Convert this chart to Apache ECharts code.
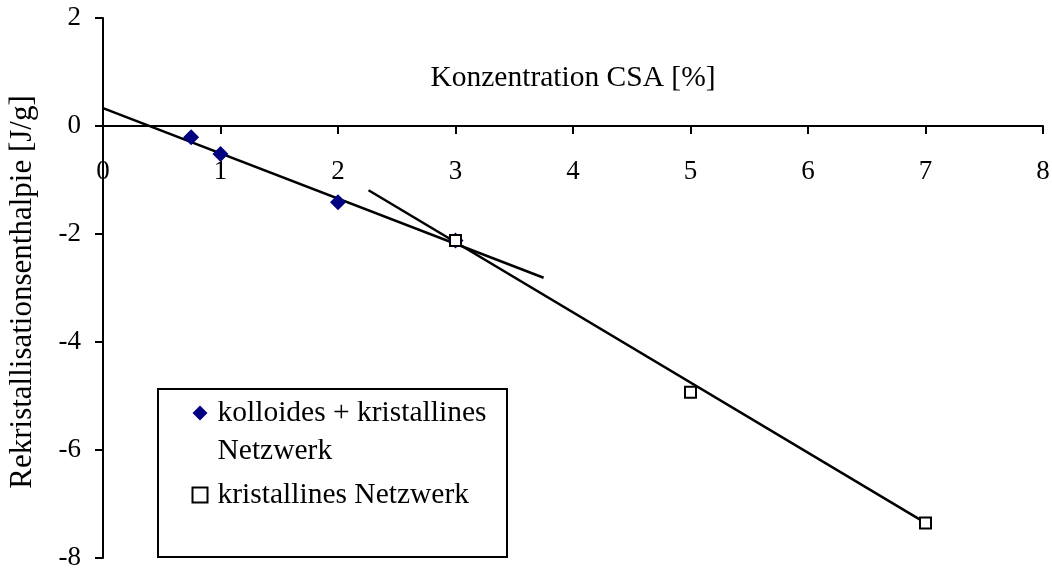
<!DOCTYPE html>
<html>
<head>
<meta charset="utf-8">
<script src="https://cdn.jsdelivr.net/npm/echarts@6/dist/echarts.min.js"></script>
<style>
  html, body { margin: 0; padding: 0; background: #fff; }
  #chart { width: 1052px; height: 573px; }
</style>
</head>
<body>
<div id="chart"></div>
<script>
// Measured points: CSA concentration [%] vs. recrystallisation enthalpy [J/g]
const seriesNames = ['kolloides + kristallines Netzwerk', 'kristallines Netzwerk'];
const colloidX = [0.75, 1, 2, 3];
const colloidY = [-0.21, -0.52, -1.41, -2.12];
const crystalX = [3, 5, 7];
const crystalY = [-2.12, -4.93, -7.35];

// Trend lines (start / end points)
const trendColloidX = [0, 3.75];
const trendColloidY = [0.33, -2.81];
const trendCrystalX = [2.26, 7];
const trendCrystalY = [-1.19, -7.35];

const xTicks = { min: 0, max: 8, interval: 1 };
const yTicks = { min: -8, max: 2, interval: 2 };

const pairs = (xs, ys) => xs.map((x, i) => [x, ys[i]]);

const FONT = 'Liberation Serif';
const GRID = { left: 103, right: 9, top: 18, bottom: 15 };
const PLOT_H = 573 - GRID.top - GRID.bottom;
// the x axis runs along y = 0, lifted from the bottom edge of the grid
const xAxisOffset = -PLOT_H * (0 - yTicks.min) / (yTicks.max - yTicks.min);

const chart = echarts.init(document.getElementById('chart'));

chart.setOption({
  backgroundColor: '#fff',
  animation: false,
  textStyle: { fontFamily: FONT, color: '#000' },
  grid: Object.assign({ containLabel: false, outerBoundsMode: 'none' }, GRID),
  xAxis: {
    type: 'value',
    min: xTicks.min, max: xTicks.max, interval: xTicks.interval,
    position: 'bottom',
    offset: xAxisOffset,
    name: 'Konzentration CSA [%]',
    nameLocation: 'middle',
    nameGap: -63,
    nameMoveOverlap: false,
    nameTextStyle: { fontFamily: FONT, fontSize: 29.5, color: '#000' },
    axisLine: { onZero: false, lineStyle: { color: '#000', width: 2 } },
    axisTick: { show: true, length: 8, lineStyle: { color: '#000', width: 2 } },
    axisLabel: { fontFamily: FONT, fontSize: 27, color: '#000', margin: 32, hideOverlap: false },
    splitLine: { show: false }
  },
  yAxis: {
    type: 'value',
    min: yTicks.min, max: yTicks.max, interval: yTicks.interval,
    name: 'Rekristallisationsenthalpie [J/g]',
    nameLocation: 'middle',
    nameGap: 65,
    nameMoveOverlap: false,
    nameTextStyle: { fontFamily: FONT, fontSize: 31, color: '#000', padding: [0, 8, 0, 0] },
    axisLine: { onZero: false, lineStyle: { color: '#000', width: 2 } },
    axisTick: { show: true, length: 8, lineStyle: { color: '#000', width: 2 } },
    axisLabel: { fontFamily: FONT, fontSize: 27, color: '#000', margin: 22 },
    splitLine: { show: false }
  },
  legend: {
    orient: 'vertical',
    left: 191.5,
    top: 356,
    padding: 0,
    itemGap: 6,
    itemWidth: 15,
    itemHeight: 15,
    textStyle: { fontFamily: FONT, fontSize: 29.5, color: '#000', lineHeight: 38, padding: [0, 0, 0, 5] },
    data: [
      { name: seriesNames[0], icon: 'diamond' },
      { name: seriesNames[1], icon: 'rect' }
    ],
    // first entry wraps onto two lines, its icon stays beside the first line
    formatter: n => n === seriesNames[0] ? ' \n' + n.replace(' Netzwerk', '\nNetzwerk') : n
  },
  graphic: [{
    type: 'rect',
    shape: { x: 158, y: 389, width: 349, height: 168 },
    style: { fill: 'none', stroke: '#000', lineWidth: 2 },
    z: 100
  }],
  series: [
    {
      name: 'trend1', type: 'line', data: pairs(trendColloidX, trendColloidY),
      showSymbol: false, symbol: 'none', silent: true,
      lineStyle: { color: '#000', width: 2.5 }, z: 2
    },
    {
      name: 'trend2', type: 'line', data: pairs(trendCrystalX, trendCrystalY),
      showSymbol: false, symbol: 'none', silent: true,
      lineStyle: { color: '#000', width: 2.5 }, z: 2
    },
    {
      name: seriesNames[0], type: 'scatter', data: pairs(colloidX, colloidY),
      symbol: 'diamond', symbolSize: 16,
      itemStyle: { color: '#000080', opacity: 1 }, z: 3
    },
    {
      name: seriesNames[1], type: 'scatter', data: pairs(crystalX, crystalY),
      symbol: 'rect', symbolSize: 11,
      itemStyle: { color: '#fff', borderColor: '#000', borderWidth: 2, opacity: 1 }, z: 4
    }
  ]
});
</script>
</body>
</html>
